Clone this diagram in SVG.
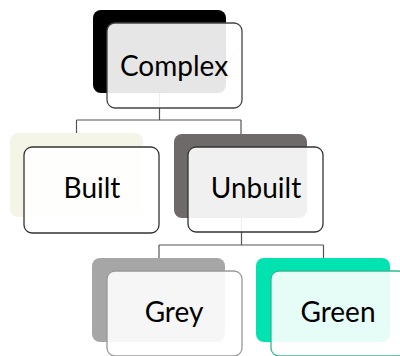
<svg xmlns="http://www.w3.org/2000/svg" width="400" height="356" viewBox="0 0 400 356">
<style>
.back{stroke:none}
.front{fill:#ffffff;fill-opacity:0.9;stroke-width:1.3}
.lbl{font-family:Lato,"Open Sans",sans-serif;font-size:28px;fill:#000;text-anchor:middle}
.conn{fill:none;stroke:#555;stroke-width:1.2}
</style>
<rect width="400" height="356" fill="#fff"/>
<g id="connectors">
<path class="conn" d="M159.5 93V120M76.5 120H241M76.5 120V133M241 120V134"/>
<path class="conn" d="M241.5 218V245M159 245H323.5M159 245V258M323.5 245V258"/>
</g>
<g id="complex">
<rect class="back" x="93" y="10" width="133" height="83" rx="8" fill="#000"/>
<rect class="front" x="107" y="23" width="135" height="85" rx="8" stroke="#444"/>
<text class="lbl" x="174" y="76">Complex</text>
</g>
<g id="built">
<rect class="back" x="10" y="133" width="133" height="84" rx="8" fill="#f4f5e6"/>
<rect class="front" x="24" y="147" width="135" height="86" rx="8" stroke="#333"/>
<text class="lbl" x="92" y="198">Built</text>
</g>
<g id="unbuilt">
<rect class="back" x="174" y="134" width="133" height="84" rx="8" fill="#6f6a6a"/>
<rect class="front" x="188" y="147" width="135" height="85" rx="8" stroke="#333"/>
<text class="lbl" x="256" y="198">Unbuilt</text>
</g>
<g id="grey">
<rect class="back" x="92" y="258" width="133" height="84" rx="8" fill="#a6a6a6"/>
<rect class="front" x="107" y="271" width="135" height="85" rx="8" stroke="#999"/>
<text class="lbl" x="174" y="322">Grey</text>
</g>
<g id="green">
<rect class="back" x="256" y="258" width="134" height="84" rx="8" fill="#00e2b0"/>
<rect class="front" x="271" y="271" width="135" height="85" rx="8" stroke="#33b894"/>
<text class="lbl" x="338" y="322">Green</text>
</g>
</svg>
